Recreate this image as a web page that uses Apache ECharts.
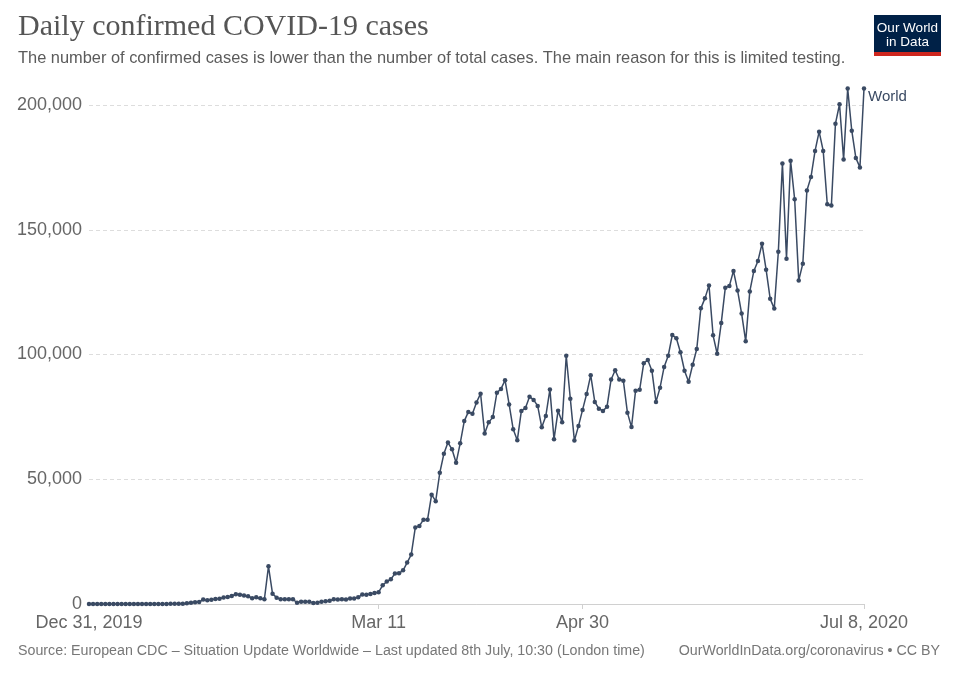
<!DOCTYPE html>
<html>
<head>
<meta charset="utf-8">
<script src="https://cdn.jsdelivr.net/npm/echarts@6/dist/echarts.min.js"></script>
<style>
html,body{margin:0;padding:0;background:#fff;}
#chart{width:960px;height:678px;}
</style>
</head>
<body>
<div id="chart"></div>
<script>
// ---- Data ----
var startDate = '2019-12-31';
var dailyCases = [
  27, 0, 0, 17, 0, 15, 0, 0, 0, 0,
  0, 0, 0, 1, 0, 1, 0, 4, 1, 0,
  78, 147, 149, 131, 259, 464, 688, 786, 1777, 1463,
  1740, 1984, 2101, 2604, 2834, 3239, 3911, 3749, 3450, 3150,
  2350, 2700, 2300, 1950, 15100, 4100, 2550, 1950, 1950, 1900,
  1900, 500, 900, 900, 900, 400, 500, 950, 1150, 1350,
  1900, 1800, 1950, 1850, 2250, 2250, 2700, 3850, 3700, 4000,
  4450, 4750, 7500, 9000, 9900, 12200, 12300, 13500, 16600, 19800,
  30700, 31300, 33800, 33800, 43800, 41200, 52600, 60200, 64700, 62000,
  56600, 64400, 73300, 77000, 76300, 80800, 84300, 68300, 72800, 74900,
  84700, 86200, 89700, 80000, 70000, 65600, 77400, 78600, 83100, 81800,
  79400, 70800, 75400, 86000, 66000, 77500, 72800, 99500, 82300, 65500,
  71300, 77800, 84200, 91700, 81000, 78300, 77400, 79100, 90000, 93700,
  90000, 89500, 76700, 70900, 85500, 85900, 96500, 97800, 93500, 81000,
  86700, 95000, 99500, 107800, 106500, 100900, 93500, 89100, 95900, 102200,
  118500, 122500, 127700, 107700, 100300, 112600, 126800, 127500, 133500, 125700,
  116400, 105300, 125300, 133500, 137500, 144400, 134000, 122300, 118400, 141200,
  176600, 138400, 177700, 162200, 129700, 136400, 165700, 171100, 181600, 189300,
  181600, 160200, 159700, 192500, 200300, 178200, 206600, 189700, 178800, 175000,
  206600
];
var xTickIndex = [0, 71, 121, 190];
var xTickText = ['Dec 31, 2019', 'Mar 11', 'Apr 30', 'Jul 8, 2020'];
var yTicks = [0, 50000, 100000, 150000, 200000];
var seriesName = 'World';

// ---- Categories (one per day) ----
var dates = [];
(function () {
  var d0 = new Date(startDate + 'T00:00:00Z');
  for (var i = 0; i < dailyCases.length; i++) {
    var d = new Date(d0.getTime() + i * 86400000);
    dates.push(d.toISOString().slice(0, 10));
  }
})();

function fmt(v) {
  return String(v).replace(/\B(?=(\d{3})+(?!\d))/g, ',');
}

var chart = echarts.init(document.getElementById('chart'), null, {renderer: 'canvas'});
var sans = '"Liberation Sans", Arial, sans-serif';
var lineColor = '#3a4a63';

chart.setOption({
  animation: false,
  backgroundColor: '#ffffff',
  grid: {left: 89, right: 96, top: 105, bottom: 74, containLabel: false},
  xAxis: {
    type: 'category',
    data: dates,
    boundaryGap: false,
    axisLine: {show: true, lineStyle: {color: '#d0d0d0', width: 1}},
    axisTick: {
      show: true,
      length: 5,
      interval: function (idx) { return xTickIndex.indexOf(idx) >= 0 && idx !== 0; },
      lineStyle: {color: '#d0d0d0'}
    },
    axisLabel: {
      interval: function (idx) { return xTickIndex.indexOf(idx) >= 0; },
      formatter: function (val, idx) {
        var k = xTickIndex.indexOf(idx);
        return k >= 0 ? xTickText[k] : '';
      },
      margin: 10,
      fontFamily: sans,
      fontSize: 18,
      color: '#666'
    },
    splitLine: {show: false}
  },
  yAxis: {
    type: 'value',
    min: yTicks[0],
    max: yTicks[yTicks.length - 1],
    interval: yTicks[1] - yTicks[0],
    axisLine: {show: false},
    axisTick: {show: false},
    axisLabel: {
      formatter: function (v) { return fmt(v); },
      margin: 7,
      fontFamily: sans,
      fontSize: 18,
      color: '#666'
    },
    splitLine: {show: true, lineStyle: {color: '#dddddd', type: [4, 3], width: 1}}
  },
  series: [{
    name: seriesName,
    type: 'line',
    data: dailyCases,
    clip: false,
    showSymbol: true,
    showAllSymbol: true,
    symbol: 'circle',
    symbolSize: 4.5,
    itemStyle: {color: lineColor},
    lineStyle: {color: lineColor, width: 1.5},
    emphasis: {disabled: true},
    endLabel: {
      show: true,
      formatter: seriesName,
      fontFamily: sans,
      fontSize: 15,
      color: '#3a4a63',
      distance: 4,
      offset: [0, 8]
    }
  }],
  graphic: [
    {type: 'text', left: 18, top: 12,
      style: {text: 'Daily confirmed COVID-19 cases', font: '30px "Liberation Serif", "Times New Roman", serif', fill: '#555'}},
    {type: 'text', left: 18, top: 50,
      style: {text: 'The number of confirmed cases is lower than the number of total cases. The main reason for this is limited testing.', font: '16.4px ' + sans, fill: '#5b5b5b'}},
    {type: 'rect', shape: {x: 874, y: 15, width: 67, height: 38}, style: {fill: '#002147'}},
    {type: 'rect', shape: {x: 874, y: 52, width: 67, height: 4}, style: {fill: '#ce261e'}},
    {type: 'text', x: 907.5, y: 28,
      style: {text: 'Our World', font: '13.5px ' + sans, fill: '#fff', align: 'center', verticalAlign: 'middle'}},
    {type: 'text', x: 907.5, y: 42,
      style: {text: 'in Data', font: '13.5px ' + sans, fill: '#fff', align: 'center', verticalAlign: 'middle'}},
    {type: 'text', x: 18, y: 651,
      style: {text: 'Source: European CDC – Situation Update Worldwide – Last updated 8th July, 10:30 (London time)', font: '14.25px ' + sans, fill: '#777', verticalAlign: 'middle'}},
    {type: 'text', x: 940, y: 651,
      style: {text: 'OurWorldInData.org/coronavirus • CC BY', font: '14.25px ' + sans, fill: '#777', align: 'right', verticalAlign: 'middle'}}
  ]
});
</script>
</body>
</html>
